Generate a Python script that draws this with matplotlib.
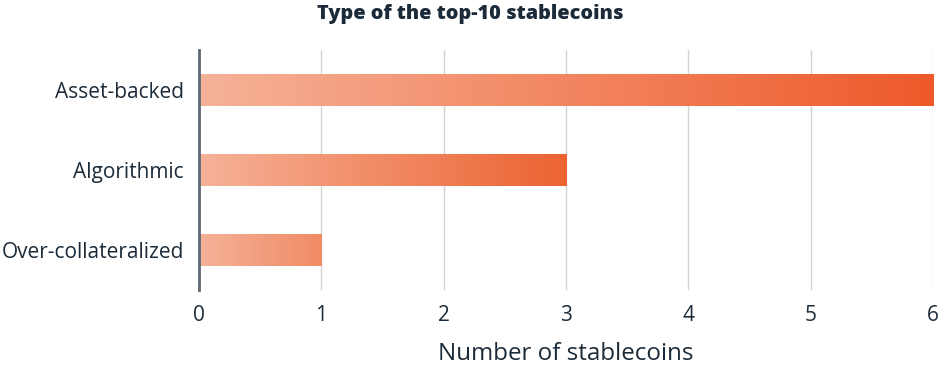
import matplotlib.pyplot as plt
import numpy as np
from matplotlib.colors import LinearSegmentedColormap

categories = ["Asset-backed", "Algorithmic", "Over-collateralized"]
counts = [6, 3, 1]
xticks = [0, 1, 2, 3, 4, 5, 6]

txt = "#1c2b39"
start_col = "#f6b298"
end_cols = ["#ee5a2a", "#ec6331", "#f08b66"]

plt.rcParams['font.family'] = ['Open Sans', 'DejaVu Sans']

fig = plt.figure(figsize=(9.4, 3.66), dpi=100)
ax = fig.add_axes([0.2117, 0.2077, 0.781, 0.6557])

xmax = 6
ypos = np.arange(len(categories))
bh = 0.4
for y, v, ec in zip(ypos, counts, end_cols):
    cm = LinearSegmentedColormap.from_list("bar", [start_col, ec])
    grad = np.linspace(0, 1, 256).reshape(1, -1)
    ax.imshow(grad, cmap=cm, vmin=0, vmax=1, aspect='auto',
              extent=(0, v, y + bh / 2, y - bh / 2), zorder=2,
              interpolation='bilinear')

ax.set_xlim(0, xmax)
ax.set_ylim(len(categories) - 0.5, -0.5)
ax.set_yticks(ypos)
ax.set_yticklabels(categories, fontsize=15, color=txt)
ax.set_xticks(xticks)
ax.set_xticklabels([str(t) for t in xticks], fontsize=15, color=txt)
ax.tick_params(axis='x', length=0, pad=11)
ax.tick_params(axis='y', length=0, pad=11)
ax.xaxis.grid(True, color="#d3d3d3", linewidth=1)
ax.set_axisbelow(True)
for s in ['top', 'right', 'bottom']:
    ax.spines[s].set_visible(False)
ax.spines['left'].set_color("#5d6872")
ax.spines['left'].set_linewidth(2)
ax.spines['left'].set_zorder(3)

ax.set_xlabel("Number of stablecoins", fontsize=17.4, color=txt, labelpad=11)
fig.suptitle("Type of the top-10 stablecoins", fontsize=14.3, fontweight='heavy',
             color=txt, x=0.5, y=0.99)

fig.savefig("out.png", dpi=100)
